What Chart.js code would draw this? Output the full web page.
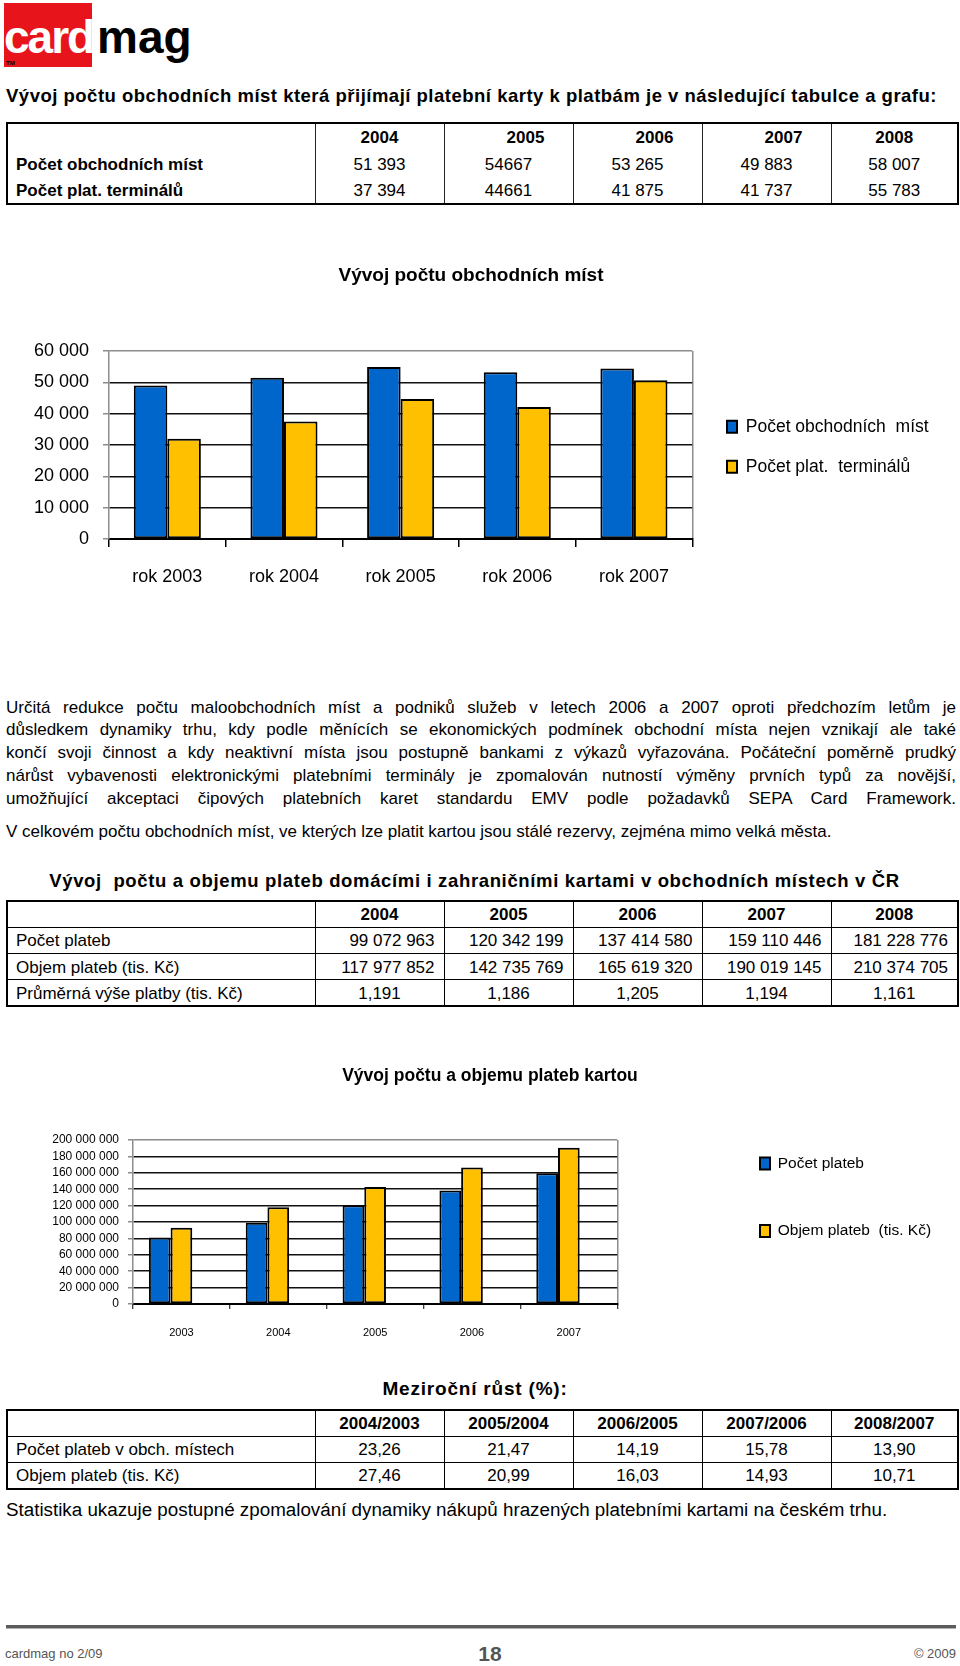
<!DOCTYPE html>
<html lang="cs">
<head>
<meta charset="utf-8">
<title>cardmag 2/09 – 18</title>
<script src="https://cdn.jsdelivr.net/npm/chart.js@4.4.1/dist/chart.umd.min.js"></script>
<style>
  html, body { margin: 0; padding: 0; background: #fff; }
  body { position: relative; width: 960px; height: 1666px; overflow: hidden;
         font-family: 'Liberation Sans', Arial, sans-serif; color: #000; }
  .abs { position: absolute; }
  .logo-box { left: 4px; top: 3px; width: 88px; height: 64px; background: #e8141b; }
  .logo { left: 4px; top: 14px; font: bold 46px/46px 'Liberation Sans', Arial, sans-serif; white-space: nowrap; }
  .logo .c { color: #fff; letter-spacing: -2px; }
  .logo .m { position: absolute; left: 93px; top: 0; color: #000; }
  .tm { left: 6px; top: 60px; font: bold 6px 'Liberation Sans', Arial, sans-serif; }
  h1, h2, h3 { margin: 0; font-weight: bold; white-space: nowrap; }
  .h1 { left: 6px; top: 84px; font-size: 18.5px; line-height: 24px; letter-spacing: 0.5px; }
  .h2 { left: 0; width: 949px; top: 869px; font-size: 18.5px; line-height: 24px; letter-spacing: 0.65px; text-align: center; }
  .h3 { left: 0; width: 950px; top: 1377px; font-size: 19px; line-height: 24px; letter-spacing: 0.8px; text-align: center; }
  .para { left: 6px; width: 950px; top: 696.5px; font-size: 17px; line-height: 22.9px; }
  .para div { text-align: justify; text-align-last: justify; }
  .p2 { left: 6px; top: 821px; font-size: 17px; line-height: 22.9px; white-space: nowrap; }
  .p3 { left: 6px; top: 1498px; font-size: 18.8px; line-height: 24px; white-space: nowrap; }
  table.t { position: absolute; left: 6px; width: 951px; border-collapse: collapse; table-layout: fixed; font-size: 17px; }
  table.t td, table.t th { padding: 2px 8px 0 8px; white-space: nowrap; overflow: hidden; text-align: center; }
  table.t th { font-weight: bold; }
  table.t td.lab { text-align: left; }
  .t1 { top: 122px; border: 2.5px solid #000; }
  .t1 td, .t1 th { border-left: 1.5px solid #222; padding-top: 4px; }
  .t1 tr { height: 27px; }
  .t1 td.lab { font-weight: bold; }
  .t1 th.sh { padding-left: 42px; }
  .grid { border: 2px solid #000; }
  .grid td, .grid th { border: 1.5px solid #000; }
  .t2 { top: 900px; }
  .t2 tr { height: 26.3px; }
  .t2 td.num { text-align: right; padding-right: 9px; }
  .t3 { top: 1409px; }
  .t3 tr { height: 26.3px; }
  canvas { position: absolute; left: 0; }
  #graf1 { top: 240px; }
  #graf2 { top: 1040px; }
  .foot-line { left: 6px; top: 1625px; width: 950px; height: 3px; background: #5c5c5c; border-bottom: 1px solid #b0b0b0; }
  .foot { top: 1643px; font-size: 13px; line-height: 22px; color: #555; }
  .foot-l { left: 5px; }
  .foot-c { left: 0; width: 980px; text-align: center; font-size: 21px; font-weight: bold; }
  .foot-r { right: 4px; }
</style>
</head>
<body>

<div class="abs logo-box"></div>
<div class="abs logo"><span class="c">card</span><span class="m">mag</span></div>
<div class="abs tm">TM</div>

<h1 class="abs h1">Vývoj počtu obchodních míst která přijímají platební karty k platbám je v následující tabulce a grafu:</h1>

<table class="t t1">
  <colgroup><col style="width:308px"><col style="width:129px"><col style="width:129px"><col style="width:129px"><col style="width:129px"><col style="width:127px"></colgroup>
  <tr><th></th><th>2004</th><th class="sh">2005</th><th class="sh">2006</th><th class="sh">2007</th><th>2008</th></tr>
  <tr><td class="lab">Počet obchodních míst</td><td>51 393</td><td>54667</td><td>53 265</td><td>49 883</td><td>58 007</td></tr>
  <tr><td class="lab">Počet plat. terminálů</td><td>37 394</td><td>44661</td><td>41 875</td><td>41 737</td><td>55 783</td></tr>
</table>

<canvas id="graf1" width="960" height="360"></canvas>

<div class="abs para">
  <div>Určitá redukce počtu maloobchodních míst a podniků služeb v letech 2006 a 2007 oproti předchozím letům je</div>
  <div>důsledkem dynamiky trhu, kdy podle měnících se ekonomických podmínek obchodní místa nejen vznikají ale také</div>
  <div>končí svoji činnost a kdy neaktivní místa jsou postupně bankami z výkazů vyřazována. Počáteční poměrně prudký</div>
  <div>nárůst vybavenosti elektronickými platebními terminály je zpomalován nutností výměny prvních typů za novější,</div>
  <div>umožňující akceptaci čipových platebních karet standardu EMV podle požadavků SEPA Card Framework.</div>
</div>
<div class="abs p2">V celkovém počtu obchodních míst, ve kterých lze platit kartou jsou stálé rezervy, zejména mimo velká města.</div>

<h2 class="abs h2">Vývoj&nbsp; počtu a objemu plateb domácími i zahraničními kartami v obchodních místech v ČR</h2>

<table class="t grid t2">
  <colgroup><col style="width:308px"><col style="width:129px"><col style="width:129px"><col style="width:129px"><col style="width:129px"><col style="width:127px"></colgroup>
  <tr><th></th><th>2004</th><th>2005</th><th>2006</th><th>2007</th><th>2008</th></tr>
  <tr><td class="lab">Počet plateb</td><td class="num">99 072 963</td><td class="num">120 342 199</td><td class="num">137 414 580</td><td class="num">159 110 446</td><td class="num">181 228 776</td></tr>
  <tr><td class="lab">Objem plateb (tis. Kč)</td><td class="num">117 977 852</td><td class="num">142 735 769</td><td class="num">165 619 320</td><td class="num">190 019 145</td><td class="num">210 374 705</td></tr>
  <tr><td class="lab">Průměrná výše platby (tis. Kč)</td><td>1,191</td><td>1,186</td><td>1,205</td><td>1,194</td><td>1,161</td></tr>
</table>

<canvas id="graf2" width="960" height="310"></canvas>

<h3 class="abs h3">Meziroční růst (%):</h3>

<table class="t grid t3">
  <colgroup><col style="width:308px"><col style="width:129px"><col style="width:129px"><col style="width:129px"><col style="width:129px"><col style="width:127px"></colgroup>
  <tr><th></th><th>2004/2003</th><th>2005/2004</th><th>2006/2005</th><th>2007/2006</th><th>2008/2007</th></tr>
  <tr><td class="lab">Počet plateb v obch. místech</td><td>23,26</td><td>21,47</td><td>14,19</td><td>15,78</td><td>13,90</td></tr>
  <tr><td class="lab">Objem plateb (tis. Kč)</td><td>27,46</td><td>20,99</td><td>16,03</td><td>14,93</td><td>10,71</td></tr>
</table>

<div class="abs p3">Statistika ukazuje postupné zpomalování dynamiky nákupů hrazených platebními kartami na českém trhu.</div>

<div class="abs foot-line"></div>
<div class="abs foot foot-l">cardmag no 2/09</div>
<div class="abs foot foot-c">18</div>
<div class="abs foot foot-r">© 2009</div>

<script>
// graf 1 – vývoj počtu obchodních míst
const roky1 = ['rok 2003', 'rok 2004', 'rok 2005', 'rok 2006', 'rok 2007'];
const obchodniMista = [49000, 51500, 54900, 53200, 54400];
const platTerminaly = [32000, 37500, 44700, 42100, 50700];
const osaY1 = [0, 10000, 20000, 30000, 40000, 50000, 60000];

// graf 2 – počet a objem plateb kartou
const roky2 = ['2003', '2004', '2005', '2006', '2007'];
const pocetPlateb = [81000000, 99000000, 120500000, 138500000, 159300000];
const objemPlateb = [93000000, 118000000, 142800000, 166500000, 190500000];
const osaY2 = [0, 20000000, 40000000, 60000000, 80000000, 100000000,
               120000000, 140000000, 160000000, 180000000, 200000000];

const MODRA = '#0066cc';
const ZLUTA = '#ffc000';
const SEDA = '#8c8c8c';
const FONT = "'Liberation Sans', Arial, sans-serif";

const mezery = v => String(v).replace(/\B(?=(\d{3})+(?!\d))/g, ' ');

// legenda a titulek na pevné místo (souřadnice v canvasu)
const nudge = {
  id: 'nudge',
  afterLayout(chart, args, o) {
    const lg = chart.legend, tb = chart.titleBlock;
    const pad = lg.options.labels.padding;
    if (o.legendX != null) { lg.left = o.legendX - pad; lg.right = chart.width; }
    if (o.legendY != null) { lg.top = o.legendY - pad; }
    if (o.titleX != null) { tb.left = 0; tb.right = 2 * o.titleX; }
  }
};

const sloupec = { borderColor: '#000', borderWidth: 2, borderSkipped: false, barPercentage: 1 };

new Chart(document.getElementById('graf1'), {
  type: 'bar',
  data: {
    labels: roky1,
    datasets: [
      { ...sloupec, label: 'Počet obchodních  míst', data: obchodniMista, backgroundColor: MODRA, categoryPercentage: 0.575 },
      { ...sloupec, label: 'Počet plat.  terminálů', data: platTerminaly, backgroundColor: ZLUTA, categoryPercentage: 0.575 }
    ]
  },
  options: {
    responsive: false,
    animation: false,
    layout: { padding: { left: 30, right: 47, top: 0, bottom: 0 } },
    plugins: {
      title: { display: true, text: 'Vývoj počtu obchodních míst', color: '#000',
               font: { family: FONT, size: 19, weight: 'bold' }, padding: { top: 24.6, bottom: 63.6 } },
      legend: { position: 'right', align: 'start',
                labels: { color: '#000', font: { family: FONT, size: 17.5 }, boxWidth: 10, boxHeight: 12, padding: 22.5 } },
      tooltip: { enabled: false },
      nudge: { legendX: 727, legendY: 178, titleX: 471 }
    },
    scales: {
      x: {
        grid: { color: c => c.type === 'scale' ? SEDA : 'transparent', lineWidth: 1.5,
                tickColor: '#000', tickLength: 8, tickWidth: 1.5 },
        border: { color: '#000', width: 2 },
        ticks: { color: '#000', font: { family: FONT, size: 18 }, padding: 19 },
        afterFit: s => { s.height = 61; }
      },
      y: {
        min: 0, max: 60000,
        afterBuildTicks: s => { s.ticks = osaY1.map(v => ({ value: v })); },
        grid: { color: c => c.tick && c.tick.value === 60000 ? SEDA : '#111', lineWidth: 1.5,
                tickColor: SEDA, tickLength: 6 },
        border: { color: SEDA, width: 1.5 },
        ticks: { color: '#000', font: { family: FONT, size: 18 }, padding: 14, autoSkip: false,
                 callback: v => mezery(v) },
        afterFit: s => { s.width = 79; }
      }
    }
  },
  plugins: [nudge]
});

new Chart(document.getElementById('graf2'), {
  type: 'bar',
  data: {
    labels: roky2,
    datasets: [
      { ...sloupec, label: 'Počet plateb', data: pocetPlateb, backgroundColor: MODRA, categoryPercentage: 0.672 },
      { ...sloupec, label: 'Objem plateb  (tis. Kč)', data: objemPlateb, backgroundColor: ZLUTA, categoryPercentage: 0.672 },
      // prázdná třetí řada – v originálu zůstalo místo pro třetí sloupec
      { ...sloupec, label: '', data: [], backgroundColor: 'transparent', borderWidth: 0, categoryPercentage: 0.672 }
    ]
  },
  options: {
    responsive: false,
    animation: false,
    layout: { padding: { left: 51, right: 154, top: 0, bottom: 0 } },
    plugins: {
      title: { display: true, text: 'Vývoj počtu a objemu plateb kartou', color: '#000',
               font: { family: FONT, size: 17.5, weight: 'bold' }, padding: { top: 25.5, bottom: 53.5 } },
      legend: { position: 'right', align: 'start',
                labels: { color: '#000', font: { family: FONT, size: 15.5 }, boxWidth: 10, boxHeight: 12, padding: 52,
                          filter: item => item.text !== '' } },
      tooltip: { enabled: false },
      nudge: { legendX: 760, legendY: 115.75, titleX: 490 }
    },
    scales: {
      x: {
        grid: { color: c => c.type === 'scale' ? SEDA : 'transparent', lineWidth: 1.5,
                tickColor: '#000', tickLength: 5, tickWidth: 1 },
        border: { color: '#000', width: 2 },
        ticks: { color: '#000', font: { family: FONT, size: 11 }, padding: 17 },
        afterFit: s => { s.height = 46; }
      },
      y: {
        min: 0, max: 200000000,
        afterBuildTicks: s => { s.ticks = osaY2.map(v => ({ value: v })); },
        grid: { color: c => c.tick && c.tick.value === 200000000 ? SEDA : '#111', lineWidth: 1.5,
                tickColor: SEDA, tickLength: 5 },
        border: { color: SEDA, width: 1.5 },
        ticks: { color: '#000', font: { family: FONT, size: 12 }, padding: 9, autoSkip: false,
                 callback: v => mezery(v) },
        afterFit: s => { s.width = 82; }
      }
    }
  },
  plugins: [nudge]
});
</script>
</body>
</html>
